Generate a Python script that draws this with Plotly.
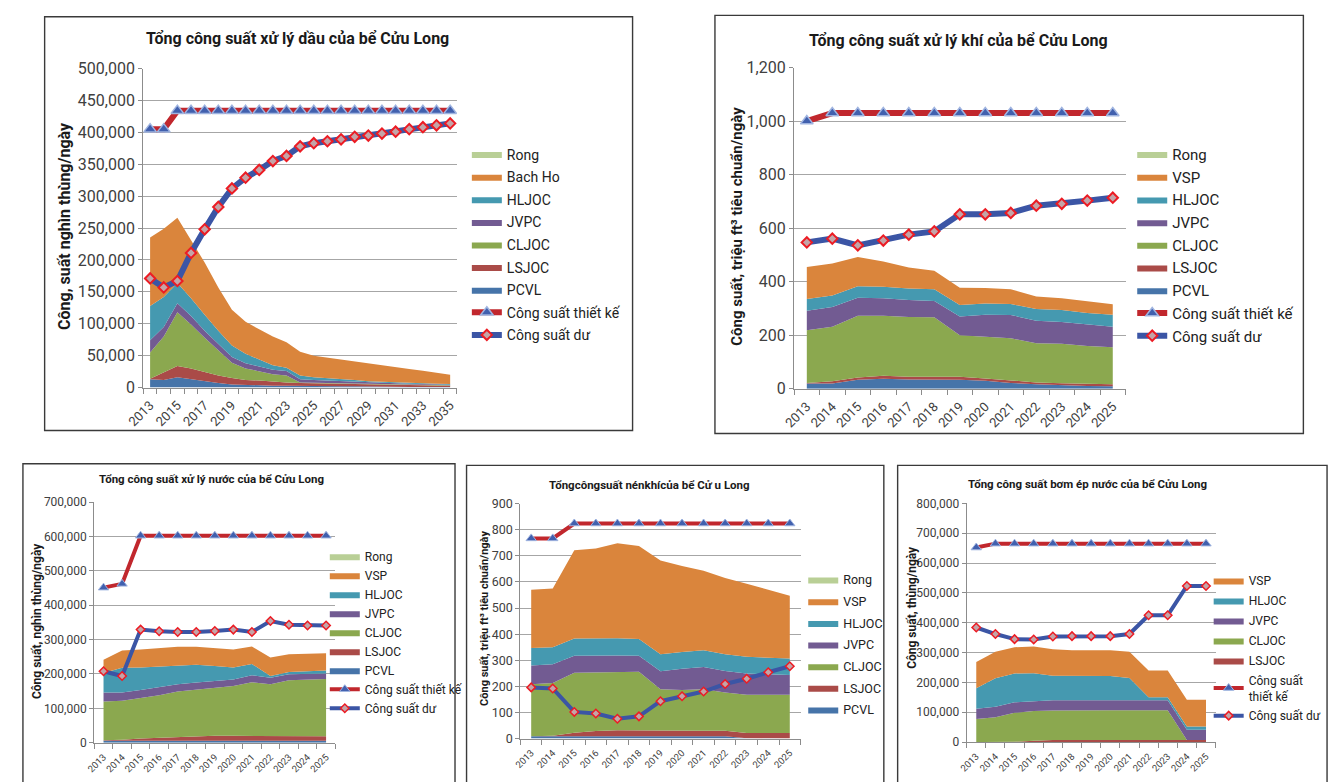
import plotly.graph_objects as go

W, H = 1331, 782
FONT = "Roboto"


def px(x):
    return x / W


def py(y):
    return 1 - y / H


# ---------------- colours ----------------
C_RONG = "#B9CF96"
C_ORANGE = "#DA853C"
C_HLJOC = "#4599B0"
C_JVPC = "#725B92"
C_CLJOC = "#8BA84F"
C_LSJOC = "#AA4B48"
C_PCVL = "#4674A9"
C_DESIGN = "#C1272D"
C_SURPLUS = "#3B55A5"

# ---------------- data: oil processing ----------------
oil_years = [2013, 2014, 2015, 2016, 2017, 2018, 2019, 2020, 2021, 2022, 2023, 2024,
             2025, 2026, 2027, 2028, 2029, 2030, 2031, 2032, 2033, 2034, 2035]
oil_tick_years = [2013, 2015, 2017, 2019, 2021, 2023, 2025, 2027, 2029, 2031, 2033, 2035]
oil_pcvl = [13000, 12000, 16000, 13000, 9000, 7000, 5000, 4000, 3500, 3000, 3000, 2500,
            2500, 2000, 2000, 2000, 1500, 1500, 1500, 1000, 1000, 1000, 1000]
oil_lsjoc = [1000, 12000, 18000, 17000, 15000, 12000, 10000, 8000, 7500, 6000, 5000, 4500,
             4100, 4000, 3500, 3000, 3000, 2500, 2000, 2500, 2000, 2000, 2000]
oil_cljoc = [41000, 56000, 84000, 69000, 54000, 39000, 24000, 18000, 14000, 12000, 11000, 1000,
             900, 1000, 1000, 1000, 1000, 1000, 1000, 1000, 1000, 1000, 500]
oil_jvpc = [19000, 15000, 14000, 13000, 11000, 10000, 9000, 8000, 8000, 7000, 7000, 5000,
            4500, 4000, 3500, 3000, 2500, 2000, 2000, 1500, 1500, 1000, 1000]
oil_hljoc = [54000, 47000, 32000, 28000, 25000, 21000, 18000, 15000, 11000, 7000, 5000, 6000,
             4000, 4000, 3000, 3000, 2000, 2000, 1500, 1000, 1100, 1000, 1100]
oil_bachho = [107000, 107000, 102000, 91000, 82000, 68000, 56000, 50000, 47000, 45000, 40000, 37000,
              34000, 32000, 30000, 28000, 28000, 26000, 24000, 22000, 19900, 17000, 14400]
oil_rong = [0, 0, 0, 0, 0, 0, 0, 0, 0, 0, 0, 0, 0, 0, 0, 0, 0, 0, 0, 0, 0, 0, 0]
oil_design = [405000, 405000, 434000, 434000, 434000, 434000, 434000, 434000, 434000, 434000,
              434000, 434000, 434000, 434000, 434000, 434000, 434000, 434000, 434000, 434000,
              434000, 434000, 434000]
oil_surplus = [171000, 157000, 167000, 211000, 248000, 283000, 312000, 329000, 341000, 355000,
               363000, 378000, 383000, 386000, 389000, 393000, 395000, 398000, 401000, 405000,
               408000, 411000, 414000]

# ---------------- data: gas processing ----------------
years13 = [2013, 2014, 2015, 2016, 2017, 2018, 2019, 2020, 2021, 2022, 2023, 2024, 2025]
gas_pcvl = [20, 20, 34, 38, 35, 35, 34, 30, 22, 17, 13, 11, 10]
gas_lsjoc = [2, 8, 8, 11, 10, 10, 11, 9, 10, 7, 8, 7, 7]
gas_cljoc = [197, 204, 231, 224, 223, 222, 155, 155, 157, 146, 147, 142, 138]
gas_jvpc = [73, 74, 67, 65, 64, 61, 70, 83, 87, 84, 82, 80, 77]
gas_hljoc = [44, 43, 43, 43, 43, 44, 43, 42, 41, 44, 44, 43, 45]
gas_vsp = [119, 119, 109, 95, 78, 69, 65, 58, 55, 47, 44, 43, 39]
gas_rong = [0, 0, 0, 0, 0, 0, 0, 0, 0, 0, 0, 0, 0]
gas_design = [1000, 1030, 1030, 1030, 1030, 1030, 1030, 1030, 1030, 1030, 1030, 1030, 1030]
gas_surplus = [547, 561, 536, 554, 576, 588, 652, 652, 657, 684, 691, 703, 714]

# ---------------- data: water processing ----------------
wat_pcvl = [6000, 6000, 6000, 6000, 6000, 6000, 6000, 6000, 6000, 6000, 6000, 6000, 6000]
wat_lsjoc = [1500, 2500, 6000, 8000, 11000, 12000, 14000, 14000, 14000, 14000, 14000, 14000, 13000]
wat_cljoc = [112500, 113500, 118000, 124000, 132000, 137000, 140000, 145000, 156000, 150000,
             162000, 164000, 166000]
wat_jvpc = [26000, 24000, 23000, 23000, 21000, 20000, 20000, 19000, 20000, 19000, 17000, 17000, 16000]
wat_hljoc = [57000, 72000, 66000, 61000, 56000, 52000, 43000, 35000, 33000, 5000, 7000, 7000, 9000]
wat_vsp = [38000, 50000, 52000, 54000, 53000, 52000, 52000, 52000, 51000, 54000, 51000, 51000, 50000]
wat_rong = [0, 0, 0, 0, 0, 0, 0, 0, 0, 0, 0, 0, 0]
wat_design = [451000, 462000, 602000, 602000, 602000, 602000, 602000, 602000, 602000, 602000,
              602000, 602000, 602000]
wat_surplus = [208000, 194000, 329000, 324000, 322000, 322000, 325000, 329000, 322000, 354000,
               343000, 341000, 341000]

# ---------------- data: gas compression ----------------
cmp_pcvl = [9, 9, 9, 9, 9, 9, 9, 9, 9, 9, 1, 0, 0]
cmp_lsjoc = [0, 2, 13, 20, 23, 22, 21, 21, 21, 21, 20, 21, 21]
cmp_cljoc = [199, 202, 230, 225, 224, 225, 159, 156, 159, 146, 147, 147, 147]
cmp_jvpc = [72, 72, 65, 64, 62, 61, 69, 81, 85, 83, 81, 78, 75]
cmp_hljoc = [67, 65, 66, 66, 66, 64, 65, 65, 64, 64, 64, 64, 64]
cmp_vsp = [223, 225, 339, 344, 364, 357, 359, 329, 305, 292, 280, 260, 240]
cmp_rong = [0, 0, 0, 0, 0, 0, 0, 0, 0, 0, 0, 0, 0]
cmp_design = [767, 767, 824, 824, 824, 824, 824, 824, 824, 824, 824, 824, 824]
cmp_surplus = [196, 192, 102, 96, 76, 85, 143, 162, 180, 209, 229, 254, 277]

# ---------------- data: water injection ----------------
inj_lsjoc = [0, 0, 1000, 4000, 7000, 7000, 7000, 7000, 7000, 7000, 7000, 7000, 7000]
inj_cljoc = [77000, 83000, 97000, 100000, 99000, 100000, 100000, 100000, 100000, 100000, 100000, 0, 0]
inj_jvpc = [35000, 35000, 35000, 33000, 34000, 33000, 33000, 33000, 33000, 33000, 33000, 34000, 34000]
inj_hljoc = [68000, 96000, 97000, 94000, 82000, 81000, 81000, 81000, 75000, 10000, 10000, 11000, 11000]
inj_vsp = [88000, 89000, 88000, 89000, 89000, 87000, 87000, 87000, 88000, 90000, 90000, 90000, 90000]
inj_design = [652000, 665000, 665000, 665000, 665000, 665000, 665000, 665000, 665000, 665000,
              665000, 665000, 665000]
inj_surplus = [384000, 362000, 345000, 344000, 354000, 355000, 355000, 355000, 362000, 425000,
               425000, 523000, 523000]

# ---------------- text ----------------
NAME_DESIGN = "Công suất thiết kế"
NAME_SURPLUS = "Công suất dư"

panels = [
    dict(
        title="Tổng công suất xử lý dầu của bể Cửu Long", title_xy=(283, 30), title_size=16,
        ytitle="Công, suất nghìn thùng/ngày", ytitle_xy=(47, 222), ytitle_size=16,
        frame=(27, 8, 623, 432),
        xdom=(127, 445), ydom=(61, 388), yrange=(0, 500000), dtick=50000,
        years=oil_years, ticks=oil_tick_years,
        series=[("PCVL", oil_pcvl, C_PCVL), ("LSJOC", oil_lsjoc, C_LSJOC),
                ("CLJOC", oil_cljoc, C_CLJOC), ("JVPC", oil_jvpc, C_JVPC),
                ("HLJOC", oil_hljoc, C_HLJOC), ("Bach Ho", oil_bachho, C_ORANGE),
                ("Rong", oil_rong, C_RONG)],
        design=oil_design, surplus=oil_surplus, lines_in_legend=True,
        yfont=16, xfont=13, grid_w=1.4, big=True,
        legend=dict(left=455, top=132.7, size=14, gap=1.4),
    ),
    dict(
        title="Tổng công suất xử lý khí của bể Cửu Long", title_xy=(953, 32), title_size=16,
        ytitle="Công suất, triệu ft³ tiêu chuẩn/ngày", ytitle_xy=(728, 223), ytitle_size=15,
        frame=(706.5, 6.5, 1303, 435),
        xdom=(786.7, 1122.7), ydom=(60, 389.3), yrange=(0, 1200), dtick=200,
        years=years13, ticks=years13,
        series=[("PCVL", gas_pcvl, C_PCVL), ("LSJOC", gas_lsjoc, C_LSJOC),
                ("CLJOC", gas_cljoc, C_CLJOC), ("JVPC", gas_jvpc, C_JVPC),
                ("HLJOC", gas_hljoc, C_HLJOC), ("VSP", gas_vsp, C_ORANGE),
                ("Rong", gas_rong, C_RONG)],
        design=gas_design, surplus=gas_surplus, lines_in_legend=True,
        yfont=16, xfont=13, grid_w=1.4, big=True,
        legend=dict(left=1129.5, top=132, size=15, gap=0.2),
    ),
    dict(
        title="Tổng công suất xử lý nước của bể Cửu Long", title_xy=(196, 482), title_size=11.5,
        ytitle="Công suất, nghìn thùng/ngày", ytitle_xy=(19.5, 627), ytitle_size=12,
        frame=(5, 466, 443, 800),
        xdom=(77.3, 321.7), ydom=(505.3, 752), yrange=(0, 700000), dtick=100000,
        years=years13, ticks=years13,
        series=[("PCVL", wat_pcvl, C_PCVL), ("LSJOC", wat_lsjoc, C_LSJOC),
                ("CLJOC", wat_cljoc, C_CLJOC), ("JVPC", wat_jvpc, C_JVPC),
                ("HLJOC", wat_hljoc, C_HLJOC), ("VSP", wat_vsp, C_ORANGE),
                ("Rong", wat_rong, C_RONG)],
        design=wat_design, surplus=wat_surplus, lines_in_legend=True,
        yfont=12, xfont=9.5, grid_w=1.1, big=False,
        legend=dict(left=311, top=546, size=12, gap=0),
    ),
    dict(
        title="Tổngcôngsuất nénkhícủa bể Cử u Long", title_xy=(640.5, 488), title_size=11.5,
        ytitle="Công suất, triệu ft³ tiêu chuẩn/ngày", ytitle_xy=(473, 624.5), ytitle_size=11,
        frame=(454.7, 467.7, 877.7, 800),
        xdom=(509.3, 793.3), ydom=(507, 747.7), yrange=(0, 900), dtick=100,
        years=years13, ticks=years13,
        series=[("PCVL", cmp_pcvl, C_PCVL), ("LSJOC", cmp_lsjoc, C_LSJOC),
                ("CLJOC", cmp_cljoc, C_CLJOC), ("JVPC", cmp_jvpc, C_JVPC),
                ("HLJOC", cmp_hljoc, C_HLJOC), ("VSP", cmp_vsp, C_ORANGE),
                ("Rong", cmp_rong, C_RONG)],
        design=cmp_design, surplus=cmp_surplus, lines_in_legend=False,
        yfont=12.5, xfont=9.5, grid_w=1.1, big=False,
        legend=dict(left=796, top=569.8, size=12.5, gap=2.4),
    ),
    dict(
        title="Tổng công suất bơm ép nước của bể Cửu Long", title_xy=(1083.7, 487), title_size=11.5,
        ytitle="Công suất, thùng/ngày", ytitle_xy=(906, 613), ytitle_size=12,
        frame=(891.7, 467.7, 1327, 800),
        xdom=(961.7, 1214), ydom=(506.7, 751.3), yrange=(0, 800000), dtick=100000,
        years=years13, ticks=years13,
        series=[("LSJOC", inj_lsjoc, C_LSJOC), ("CLJOC", inj_cljoc, C_CLJOC),
                ("JVPC", inj_jvpc, C_JVPC), ("HLJOC", inj_hljoc, C_HLJOC),
                ("VSP", inj_vsp, C_ORANGE)],
        design=inj_design, surplus=inj_surplus, lines_in_legend=True,
        design_name="Công suất<br>thiết kế",
        yfont=12, xfont=9.5, grid_w=1.1, big=False,
        legend=dict(left=1207, top=570.8, size=12, gap=1.0),
    ),
]

fig = go.Figure()
layout = dict(
    width=W, height=H, margin=dict(l=0, r=0, t=0, b=0, pad=0),
    paper_bgcolor="white", plot_bgcolor="rgba(0,0,0,0)",
    font=dict(family=FONT, color="#333333"), hovermode=False,
    shapes=[], annotations=[],
)

for i, p in enumerate(panels, start=1):
    sfx = "" if i == 1 else str(i)
    xa, ya = "x" + sfx, "y" + sfx
    lg = "legend" + sfx
    n_series = len(p["series"])
    # stacked areas (bottom first); legend lists the top series first
    for k, (name, vals, col) in enumerate(p["series"]):
        fig.add_trace(go.Scatter(
            x=p["years"], y=vals, name=name, stackgroup="s%d" % i,
            mode="lines", line=dict(width=0, color=col), fillcolor=col,
            xaxis=xa, yaxis=ya, legend=lg, legendrank=n_series - k,
            legendgroup="g%d_%d" % (i, k), hoverinfo="skip",
        ))
    big = p["big"]
    fig.add_trace(go.Scatter(
        x=p["years"], y=p["design"], name=p.get("design_name", NAME_DESIGN),
        mode="lines+markers",
        line=dict(color=C_DESIGN, width=6 if big else 4),
        marker=dict(symbol="triangle-up", size=11 if big else 9, color="#4160AE",
                    line=dict(color="#9FB4E0", width=1.5 if big else 1)),
        xaxis=xa, yaxis=ya, legend=lg, legendrank=n_series + 1,
        legendgroup="g%d_d" % i, showlegend=p["lines_in_legend"], hoverinfo="skip",
    ))
    fig.add_trace(go.Scatter(
        x=p["years"], y=p["surplus"], name=NAME_SURPLUS,
        mode="lines+markers",
        line=dict(color=C_SURPLUS, width=6 if big else 4),
        marker=dict(symbol="diamond", size=8 if big else 6.5, color="#C4A4A8",
                    line=dict(color="#EC1C24", width=2 if big else 1.5)),
        xaxis=xa, yaxis=ya, legend=lg, legendrank=n_series + 2,
        legendgroup="g%d_s" % i, showlegend=p["lines_in_legend"], hoverinfo="skip",
    ))

    yrs = p["years"]
    bounds = [yv - 0.5 for yv in yrs] + [yrs[-1] + 0.5]
    layout["xaxis" + sfx] = dict(
        domain=[px(p["xdom"][0]), px(p["xdom"][1])], anchor=ya,
        range=[yrs[0] - 0.5, yrs[-1] + 0.5],
        tickmode="array", tickvals=p["ticks"], ticktext=[str(t) for t in p["ticks"]],
        tickangle=-45, tickfont=dict(family=FONT, size=p["xfont"], color="#404040"),
        ticks="outside", ticklen=4, tickcolor="rgba(0,0,0,0)",
        showgrid=False, zeroline=False, showline=True, linecolor="#8C8C8C",
        linewidth=1.3,
        minor=dict(tickmode="array", tickvals=bounds, ticks="outside", ticklen=5,
                   tickcolor="#8C8C8C", tickwidth=1.2, showgrid=False),
        fixedrange=True,
    )
    layout["yaxis" + sfx] = dict(
        domain=[py(p["ydom"][1]), py(p["ydom"][0])], anchor=xa,
        range=list(p["yrange"]), dtick=p["dtick"], tick0=0, tickformat=",",
        tickfont=dict(family=FONT, size=p["yfont"], color="#404040"),
        ticks="outside", ticklen=4, tickcolor="#8C8C8C", tickwidth=1.2,
        showgrid=True, gridcolor="#A6A6A6", gridwidth=p["grid_w"],
        zeroline=False, showline=True, linecolor="#8C8C8C", linewidth=1.3,
        fixedrange=True,
    )
    L = p["legend"]
    layout[lg] = dict(
        x=px(L["left"]), y=py(L["top"]), xanchor="left", yanchor="top",
        font=dict(family=FONT, size=L["size"], color="#222222"),
        bgcolor="rgba(0,0,0,0)", borderwidth=0,
        traceorder="grouped", tracegroupgap=L["gap"], itemwidth=30,
    )
    f = p["frame"]
    layout["shapes"].append(dict(
        type="rect", xref="paper", yref="paper",
        x0=px(f[0]), x1=px(f[2]), y0=py(f[3]), y1=py(f[1]),
        line=dict(color="#3A3A3A", width=1.4), fillcolor="rgba(0,0,0,0)", layer="above",
    ))
    layout["annotations"].append(dict(
        text=p["title"], xref="paper", yref="paper",
        x=px(p["title_xy"][0]), y=py(p["title_xy"][1]), xanchor="center", yanchor="middle",
        showarrow=False,
        font=dict(family=FONT, size=p["title_size"], color="#1A1A1A", weight="bold"),
    ))
    layout["annotations"].append(dict(
        text=p["ytitle"], xref="paper", yref="paper",
        x=px(p["ytitle_xy"][0]), y=py(p["ytitle_xy"][1]), xanchor="center", yanchor="middle",
        showarrow=False, textangle=-90,
        font=dict(family=FONT, size=p["ytitle_size"], color="#1A1A1A", weight="bold"),
    ))

fig.update_layout(**layout)
fig.write_html("out.html", config={"displayModeBar": False})
